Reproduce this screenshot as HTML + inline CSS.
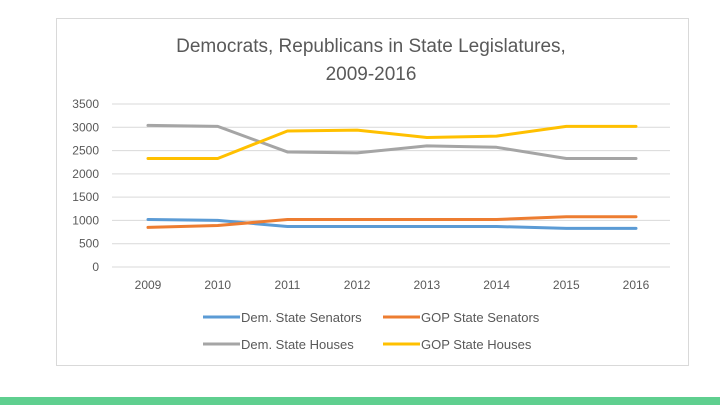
<!DOCTYPE html>
<html><head><meta charset="utf-8"><style>
body{margin:0;width:720px;height:405px;background:#fff;overflow:hidden;font-family:"Liberation Sans",sans-serif;}
</style></head><body>
<svg width="720" height="405">
<rect x="56.5" y="18.5" width="632" height="347" fill="#fff" stroke="#d9d9d9"/>
<text x="371" y="52" text-anchor="middle" font-size="19" fill="#595959">Democrats, Republicans in State Legislatures,</text>
<text x="371" y="80" text-anchor="middle" font-size="19" fill="#595959">2009-2016</text>
<g id="grid"></g><g id="ylab"></g><g id="xlab"></g><g id="series"></g><g id="legend"></g>
<rect x="0" y="397" width="720" height="8" fill="#5fcf8f"/>
</svg>
<script>
const categories=["2009","2010","2011","2012","2013","2014","2015","2016"];
const yTicks=[0,500,1000,1500,2000,2500,3000,3500];
const demSenators=[1020,1000,870,870,870,870,830,830];
const gopSenators=[850,890,1020,1020,1020,1020,1080,1080];
const demHouses=[3040,3020,2470,2450,2600,2570,2330,2330];
const gopHouses=[2330,2330,2920,2940,2780,2810,3020,3020];
const NS="http://www.w3.org/2000/svg";
const x0=148,x1=636,yb=267,yt=104,gl=112,gr=670;
const X=i=>x0+i*(x1-x0)/(categories.length-1);
const Y=v=>yb-(v/3500)*(yb-yt);
function mk(t,a,p){const e=document.createElementNS(NS,t);for(const k in a)e.setAttribute(k,a[k]);p.appendChild(e);return e;}
const grid=document.getElementById('grid'),yl=document.getElementById('ylab'),xl=document.getElementById('xlab');
yTicks.forEach(v=>{
 const l=mk('line',{x1:gl,x2:gr,y1:Y(v),y2:Y(v),stroke:'#d9d9d9','stroke-width':1},grid);
 
 
 const t=mk('text',{x:99,y:Y(v)+4,'text-anchor':'end','font-size':12,fill:'#595959'},yl);
 t.textContent=v;
 
 
});
categories.forEach((c,i)=>{
 const t=mk('text',{x:X(i),y:289,'text-anchor':'middle','font-size':12,fill:'#595959'},xl);
 t.textContent=c;
 
 
});
const series=[["Dem. State Senators",demSenators,"#5b9bd5","dem-senators-line"],["GOP State Senators",gopSenators,"#ed7d31","gop-senators-line"],["Dem. State Houses",demHouses,"#a5a5a5","dem-houses-line"],["GOP State Houses",gopHouses,"#ffc000","gop-houses-line"]];
const sg=document.getElementById('series'),lg=document.getElementById('legend');
const lpos=[[203,317],[383,317],[203,344],[383,344]];
series.forEach((s,k)=>{
 const p=mk('polyline',{points:s[1].map((v,i)=>X(i)+','+Y(v)).join(' '),fill:'none',stroke:s[2],'stroke-width':3,'stroke-linejoin':'round','stroke-linecap':'round'},sg);
 
 
 const [lx,ly]=lpos[k];
 const g=mk('g',{},lg);
 
 
 mk('line',{x1:lx,x2:lx+37,y1:ly,y2:ly,stroke:s[2],'stroke-width':3},g);
 const t=mk('text',{x:lx+38,y:ly+5,'font-size':13,fill:'#595959'},g);
 t.textContent=s[0];
});
</script>
</body></html>
